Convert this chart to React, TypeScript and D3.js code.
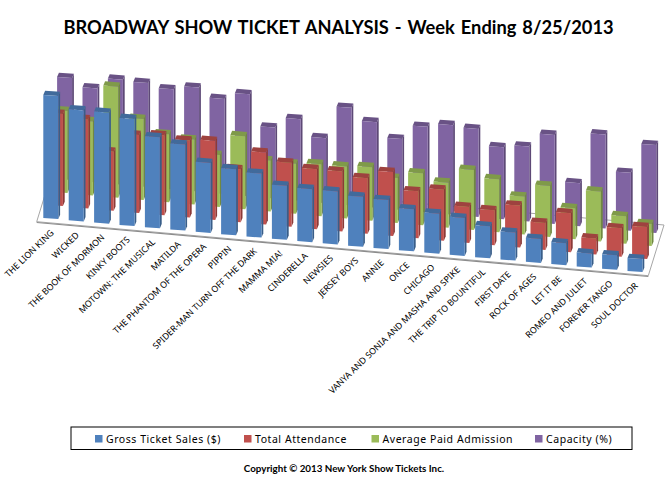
import * as d3 from "d3";

const categories = [
  "THE LION KING", "WICKED", "THE BOOK OF MORMON", "KINKY BOOTS", "MOTOWN: THE MUSICAL", "MATILDA",
  "THE PHANTOM OF THE OPERA", "PIPPIN", "SPIDER-MAN TURN OFF THE DARK", "MAMMA MIA!", "CINDERELLA", "NEWSIES",
  "JERSEY BOYS", "ANNIE", "ONCE", "CHICAGO", "VANYA AND SONIA AND MASHA AND SPIKE", "THE TRIP TO BOUNTIFUL",
  "FIRST DATE", "ROCK OF AGES", "LET IT BE", "ROMEO AND JULIET", "FOREVER TANGO", "SOUL DOCTOR",
];

// Relative bar heights (no value axis in the original)
const grossSales = [123, 111, 111, 107, 91, 86, 70, 66, 64, 54, 53, 53, 50, 49, 42, 40, 38, 32, 28, 24, 22, 14, 14.5, 13];
const attendance = [92, 89, 59, 78, 80, 77, 79, 53, 72, 64, 60, 60, 55.6, 64, 47, 51, 36, 35, 42, 27, 39, 16, 28.6, 32];
const avgPaid = [82, 74, 111, 81, 68, 65, 52, 73, 51, 50, 52, 52, 53.6, 45, 52, 45, 60, 53, 38, 51, 31, 50, 27.6, 22];
const capacity = [102, 94, 105, 104, 100, 104, 95, 102, 71, 81.7, 65, 97.6, 85.6, 71, 85.5, 89.5, 88, 72, 75, 89, 43, 94, 58, 88];

const seriesNames = ["Gross Ticket Sales ($)", "Total Attendance", "Average Paid Admission", "Capacity (%)"];
const seriesValues = [grossSales, attendance, avgPaid, capacity];
const front = ["#4f81bd", "#c0504d", "#9bbb59", "#8064a2"];
const legendX = [95, 244, 371.5, 535];

const width = 670;
const height = 488;

// Oblique projection of the floor: category runs left to right, series runs front to back
const catX = d3.scaleLinear().domain([0, 23]).range([43.3, 627.5]);
const catY = d3.scaleLinear().domain([0, 23]).range([218, 271]);
const serX = d3.scaleLinear().domain([0, 3]).range([0, 13.8]);
const serY = d3.scaleLinear().domain([0, 3]).range([0, -39]);
const barH = d3.scaleLinear().domain([0, 125]).range([0, 125]);

const barW = 15;
const slope = 1.1;
const capDx = 1.8;
const capDy = -4.3;

const poly = (pts: [number, number][]) => pts.map((p) => p.join(",")).join(" ");

function Bar({ i, s, value }: { i: number; s: number; value: number }) {
  const x = catX(i) + serX(s);
  const y = catY(i) + serY(s);
  const top = y - barH(value);
  const c = d3.color(front[s])!;
  return (
    <g>
      <polygon
        points={poly([[x + barW, top + slope], [x + barW + capDx, top + slope + capDy], [x + barW + capDx, y + slope + capDy], [x + barW, y + slope]])}
        fill={c.darker(0.9).toString()}
      />
      <polygon
        points={poly([[x, top], [x + capDx, top + capDy], [x + barW + capDx, top + slope + capDy], [x + barW, top + slope]])}
        fill={c.darker(0.55).toString()}
      />
      <polygon
        points={poly([[x, top], [x + barW, top + slope], [x + barW, y + slope], [x, y]])}
        fill={front[s]}
      />
    </g>
  );
}

export default function App() {
  const floor: [number, number][] = [[36.7, 221.7], [648.3, 275.7], [664, 225], [52.4, 171]];
  return (
    <svg
      width={width}
      height={height}
      style={{ position: "absolute", left: 0, top: 0, background: "#fff" }}
      fontFamily="'Noto Sans', sans-serif"
    >
      <text x={338.5} y={34} textAnchor="middle" fontFamily="Lato, sans-serif" fontWeight={700} fontSize={18.3} fill="#000" wordSpacing={1.5}>
        BROADWAY SHOW TICKET ANALYSIS - Week Ending 8/25/2013
      </text>

      {/* Floor */}
      <polygon points={poly(floor)} fill="#fff" stroke="#a6a6a6" strokeWidth={1} />
      <line x1={36.7} y1={222.5} x2={648.3} y2={276.5} stroke="#8c8c8c" strokeWidth={1.2} />

      {/* Bars, back series first */}
      {[3, 2, 1, 0].map((s) => (
        <g key={s}>
          {seriesValues[s].map((v, i) => (
            <Bar key={i} i={i} s={s} value={v} />
          ))}
        </g>
      ))}

      {/* Category labels */}
      {categories.map((name, i) => (
        <text
          key={name}
          transform={`translate(${catX(i) + 11},${catY(i) + 15.5}) rotate(-44)`}
          textAnchor="end"
          fontSize={8.8}
          fill="#000"
        >
          {name}
        </text>
      ))}

      {/* Legend */}
      <rect x={71} y={427} width={561} height={22.5} fill="#fff" stroke="#000" strokeWidth={1} />
      {seriesNames.map((name, s) => (
        <g key={name}>
          <rect x={legendX[s]} y={435} width={7.5} height={7.5} fill={front[s]} />
          <text x={legendX[s] + 11} y={442.5} fontSize={10.5} fill="#000" letterSpacing={0.55}>
            {name}
          </text>
        </g>
      ))}

      <text x={344} y={472} textAnchor="middle" fontFamily="Lato, sans-serif" fontWeight={700} fontSize={9.8} fill="#000">
        Copyright © 2013 New York Show Tickets Inc.
      </text>
    </svg>
  );
}
